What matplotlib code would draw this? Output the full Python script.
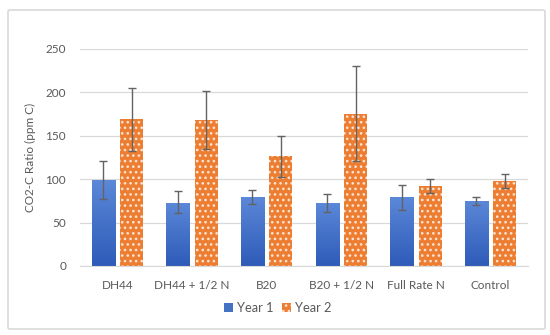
import matplotlib

matplotlib.use("Agg")

import matplotlib.pyplot as plt
import numpy as np
from matplotlib.colors import LinearSegmentedColormap
from matplotlib.patches import FancyBboxPatch, Rectangle

categories = ["DH44", "DH44 + 1/2 N", "B20", "B20 + 1/2 N", "Full Rate N", "Control"]
year1 = [99, 73, 79, 72, 79, 75]
year1_err_lo = [22, 12, 8, 10, 15, 5]
year1_err_hi = [22, 13, 8, 11, 14, 5]
year2 = [169, 168, 127, 175, 92, 98]
year2_err_lo = [36, 33, 24, 54, 8, 8]
year2_err_hi = [36, 33, 23, 55, 8, 8]
series_labels = ["Year 1", "Year 2"]

TEXT = "#595959"
GRID = "#D9D9D9"
BLUE = "#4472C4"
ORANGE = "#ED7D31"

plt.rcParams["font.family"] = ["Lato", "DejaVu Sans"]
plt.rcParams["hatch.color"] = "#FBE3D3"
plt.rcParams["hatch.linewidth"] = 1.1

fig = plt.figure(figsize=(5.5, 3.35), dpi=100)
frame = FancyBboxPatch((8 / 550, 6 / 335), 537 / 550, 319 / 335,
                       boxstyle="round,pad=0,rounding_size=0.004",
                       transform=fig.transFigure, facecolor="white",
                       edgecolor="#D9D9D9", linewidth=1.2, zorder=-1)
fig.patches.append(frame)
ax = fig.add_axes([0.1455, 0.206, 0.8145, 0.648])
ax.set_facecolor("none")

x = np.arange(len(categories))
width = 0.31
off = 0.19

# blue bars with a vertical gradient
grad = np.linspace(0, 1, 256).reshape(-1, 1)
cmap = LinearSegmentedColormap.from_list("b", ["#2E5BB8", "#5B88D8"])
for xi, v in zip(x - off, year1):
    r = Rectangle((xi - width / 2, 0), width, v, facecolor="none", edgecolor="none")
    ax.add_patch(r)
    im = ax.imshow(grad, cmap=cmap, origin="lower", aspect="auto",
                   extent=(xi - width / 2, xi + width / 2, 0, v), zorder=2)
    im.set_clip_path(r)

ax.bar(x + off, year2, width, color=ORANGE, hatch="...", linewidth=0, zorder=2)

ax.errorbar(x - off, year1, yerr=[year1_err_lo, year1_err_hi], fmt="none",
            ecolor="#636363", elinewidth=1, capsize=3, capthick=1, zorder=3)
ax.errorbar(x + off, year2, yerr=[year2_err_lo, year2_err_hi], fmt="none",
            ecolor="#636363", elinewidth=1, capsize=3, capthick=1, zorder=3)

ax.set_xlim(-0.5, len(categories) - 0.5)
ax.set_ylim(0, 250)
ax.set_yticks(range(0, 251, 50))
ax.set_xticks(x)
ax.set_xticklabels(categories)
ax.grid(axis="y", color=GRID, linewidth=0.9, zorder=0)
ax.set_axisbelow(True)
for s in ["top", "right", "left"]:
    ax.spines[s].set_visible(False)
ax.spines["bottom"].set_color(GRID)
ax.tick_params(axis="both", length=0, colors=TEXT, labelsize=8.5)
ax.tick_params(axis="x", pad=10)
ax.tick_params(axis="y", pad=10)
ax.set_ylabel("CO2-C Ratio (ppm C)", color=TEXT, fontsize=8.5, labelpad=7)

handles = [Rectangle((0, 0), 1, 1, facecolor=BLUE),
           Rectangle((0, 0), 1, 1, facecolor=ORANGE, hatch="...", linewidth=0)]
fig.legend(handles, series_labels, loc="center", bbox_to_anchor=(0.505, 0.08),
           ncol=2, frameon=False, fontsize=9.3, labelcolor=TEXT,
           handlelength=0.7, handleheight=0.7, handletextpad=0.3, columnspacing=0.6)

fig.savefig("out.png", dpi=100)
